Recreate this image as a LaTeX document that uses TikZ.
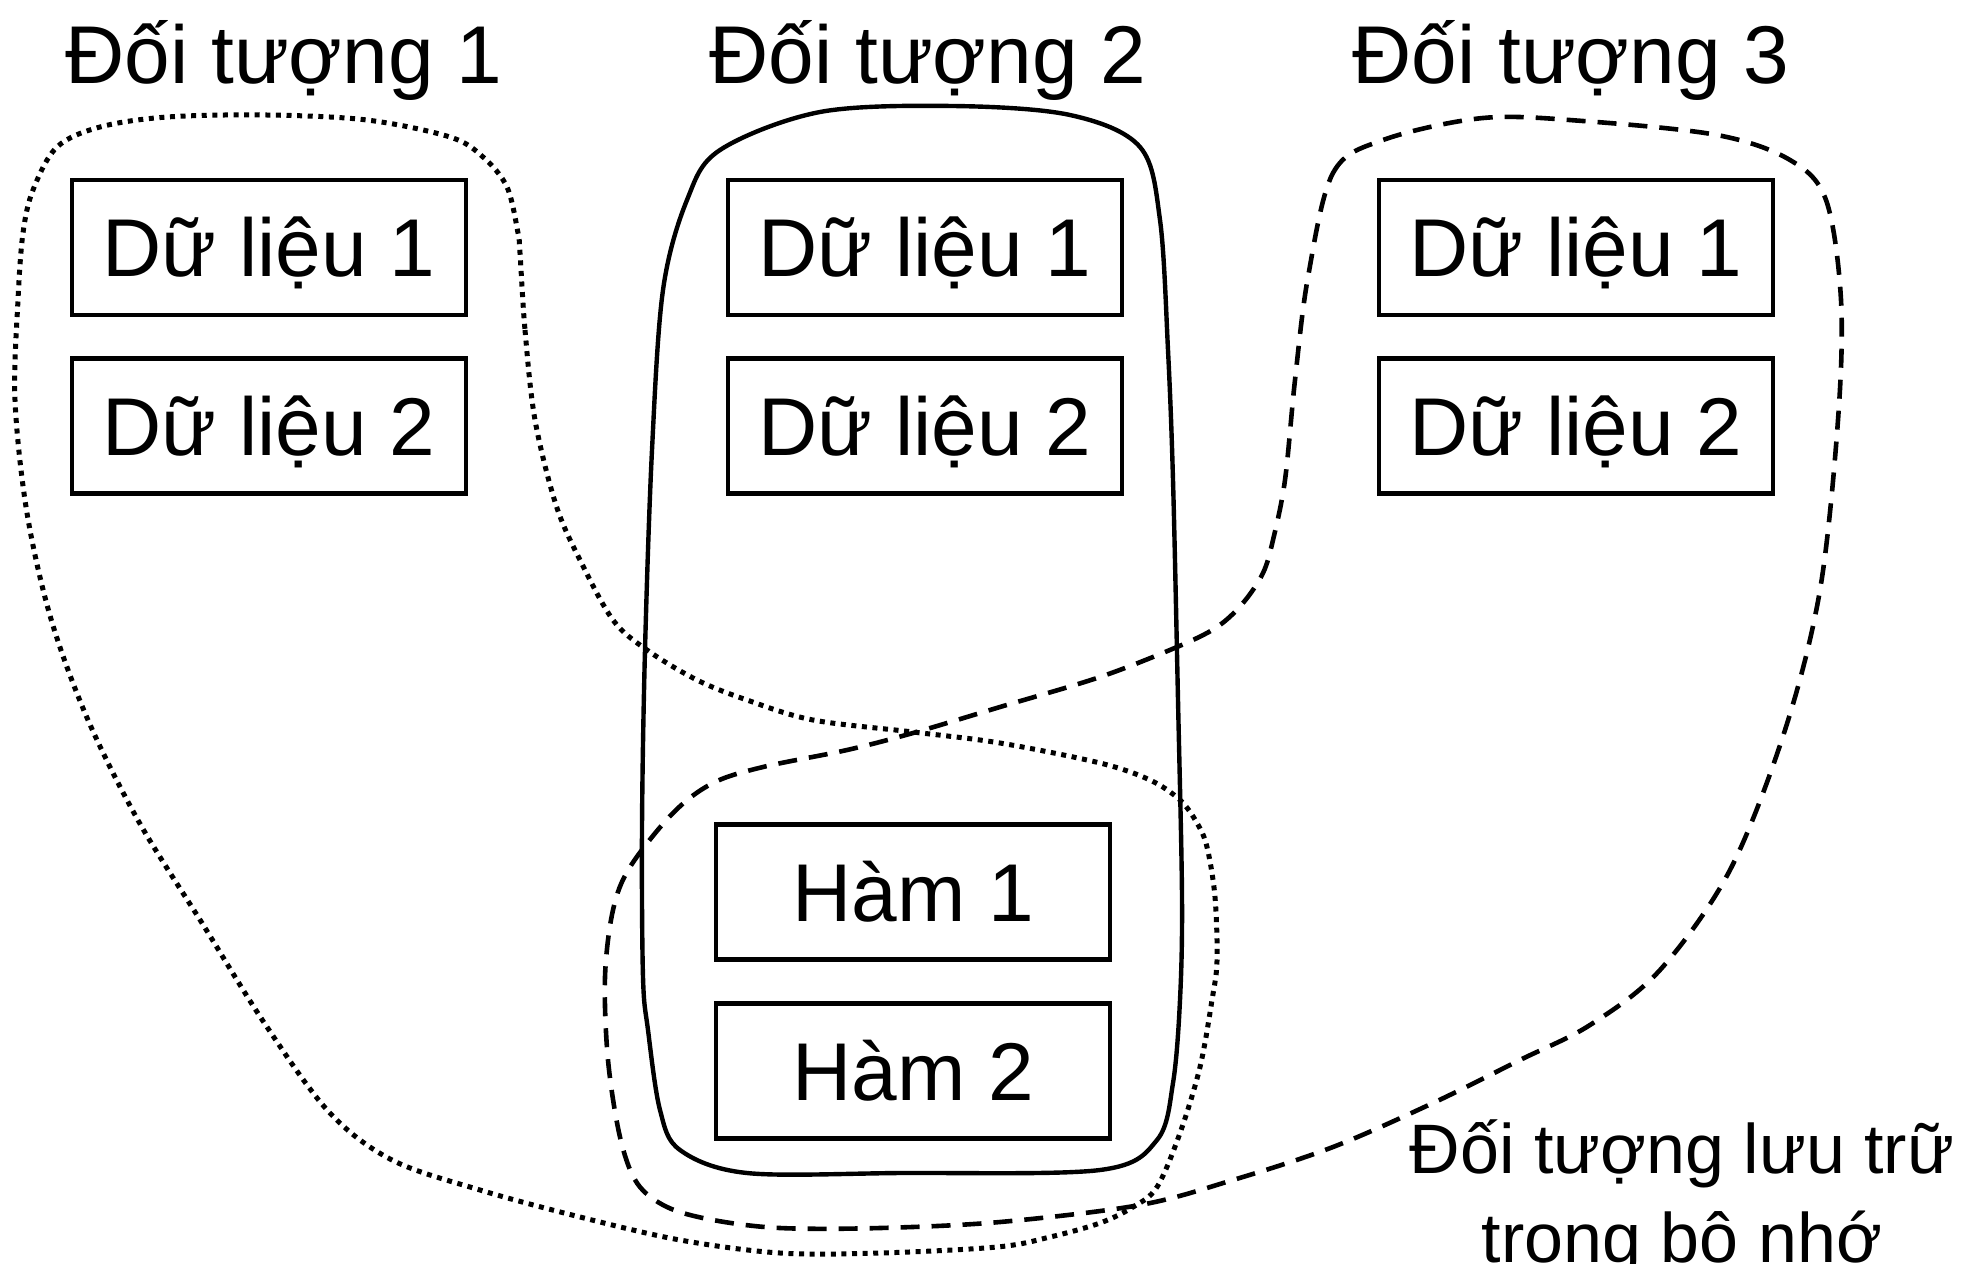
\documentclass[tikz,border=0pt]{standalone}
\usepackage{fontspec}
\setmainfont{Liberation Sans}
\begin{document}
\begin{tikzpicture}[x=0.5pt,y=-0.5pt,
  box/.style={draw, line width=2.3pt, minimum width=197pt, minimum height=67.5pt, inner sep=0pt,
    font=\fontsize{41}{49}\selectfont, text height=29.4pt, text depth=0pt},
  titlelabel/.style={anchor=base, inner sep=0pt, font=\fontsize{41}{49}\selectfont},
  notelabel/.style={anchor=base, inner sep=0pt, font=\fontsize{35}{44}\selectfont},
  solidline/.style={line width=2.2pt},
  dotline/.style={line width=2.5pt, dash pattern=on 2.5pt off 2.8pt},
  dashline/.style={line width=2.3pt, dash pattern=on 9.5pt off 6pt}]
\useasboundingbox (0,0) rectangle (1982,1264);

% titles
\node[titlelabel] (t1) at (284,83) {Đối tượng 1};
\node[titlelabel] (t2) at (928,83) {Đối tượng 2};
\node[titlelabel] (t3) at (1571,83) {Đối tượng 3};

% object 1 outline (dotted)
\draw[dotline] plot[smooth cycle, tension=0.55] coordinates {
 (520,253) (525,330) (535,420) (556,505) (580,560) (613,620) (647,650) (697,680)
 (747,700) (813,720) (913,732) (1000,743) (1100,763) (1150,780) (1180,800)
 (1197,823) (1207,847) (1215,897) (1217,961) (1212,1000) (1200,1067) (1180,1133)
 (1157,1187) (1133,1207) (1100,1223) (1050,1237) (997,1247) (880,1253) (780,1253)
 (680,1240) (580,1217) (480,1190) (392,1160) (329,1112) (265,1024) (202,923)
 (139,822) (88,720) (51,619) (27,513) (15,400) (18,300) (23,233) (33,190)
 (57,147) (100,127) (167,117) (267,115) (367,120) (450,137) (483,157) (507,187) (518,233)};

% object 2 outline (solid)
\draw[solidline] plot[smooth cycle, tension=0.55] coordinates {
 (663,290) (687,200) (720,150) (820,112) (953,106) (1070,115) (1140,147)
 (1160,220) (1168,350) (1173,480) (1178,700) (1182,897) (1180,1000) (1173,1083) (1157,1140)
 (1100,1170) (900,1173) (747,1173) (680,1150) (660,1110) (648,1030) (643,977)
 (642,827) (645,650) (652,450)};

% object 3 outline (dashed)
\draw[dashline] plot[smooth cycle, tension=0.55] coordinates {
 (1308,277) (1333,173) (1383,140) (1483,118) (1583,121) (1717,135) (1790,160)
 (1826,200) (1841,300) (1838,420) (1820,590) (1785,730) (1730,870) (1660,970)
 (1590,1025) (1520,1060) (1433,1103) (1333,1147) (1233,1180) (1140,1205) (1000,1222)
 (880,1228) (780,1228) (713,1220) (667,1207) (637,1183) (620,1137) (608,1060)
 (605,977) (613,910) (630,867) (673,813) (713,783) (763,767) (847,750) (913,733)
 (1000,707) (1100,677) (1177,647) (1217,627) (1243,603) (1263,573) (1273,540)
 (1285,480) (1295,380)};

% boxes
\node[box] (a1) at (269,247.5) {Dữ liệu 1};
\node[box] (a2) at (269,426) {Dữ liệu 2};
\node[box] (b1) at (925,247.5) {Dữ liệu 1};
\node[box] (b2) at (925,426) {Dữ liệu 2};
\node[box] (c1) at (1576,247.5) {Dữ liệu 1};
\node[box] (c2) at (1576,426) {Dữ liệu 2};
\node[box] (f1) at (913,892) {Hàm 1};
\node[box] (f2) at (913,1071) {Hàm 2};

% note
\node[notelabel] (n1) at (1682,1173) {Đối tượng lưu trữ};
\node[notelabel] (n2) at (1682,1262) {trong bộ nhớ};
\end{tikzpicture}
\end{document}
